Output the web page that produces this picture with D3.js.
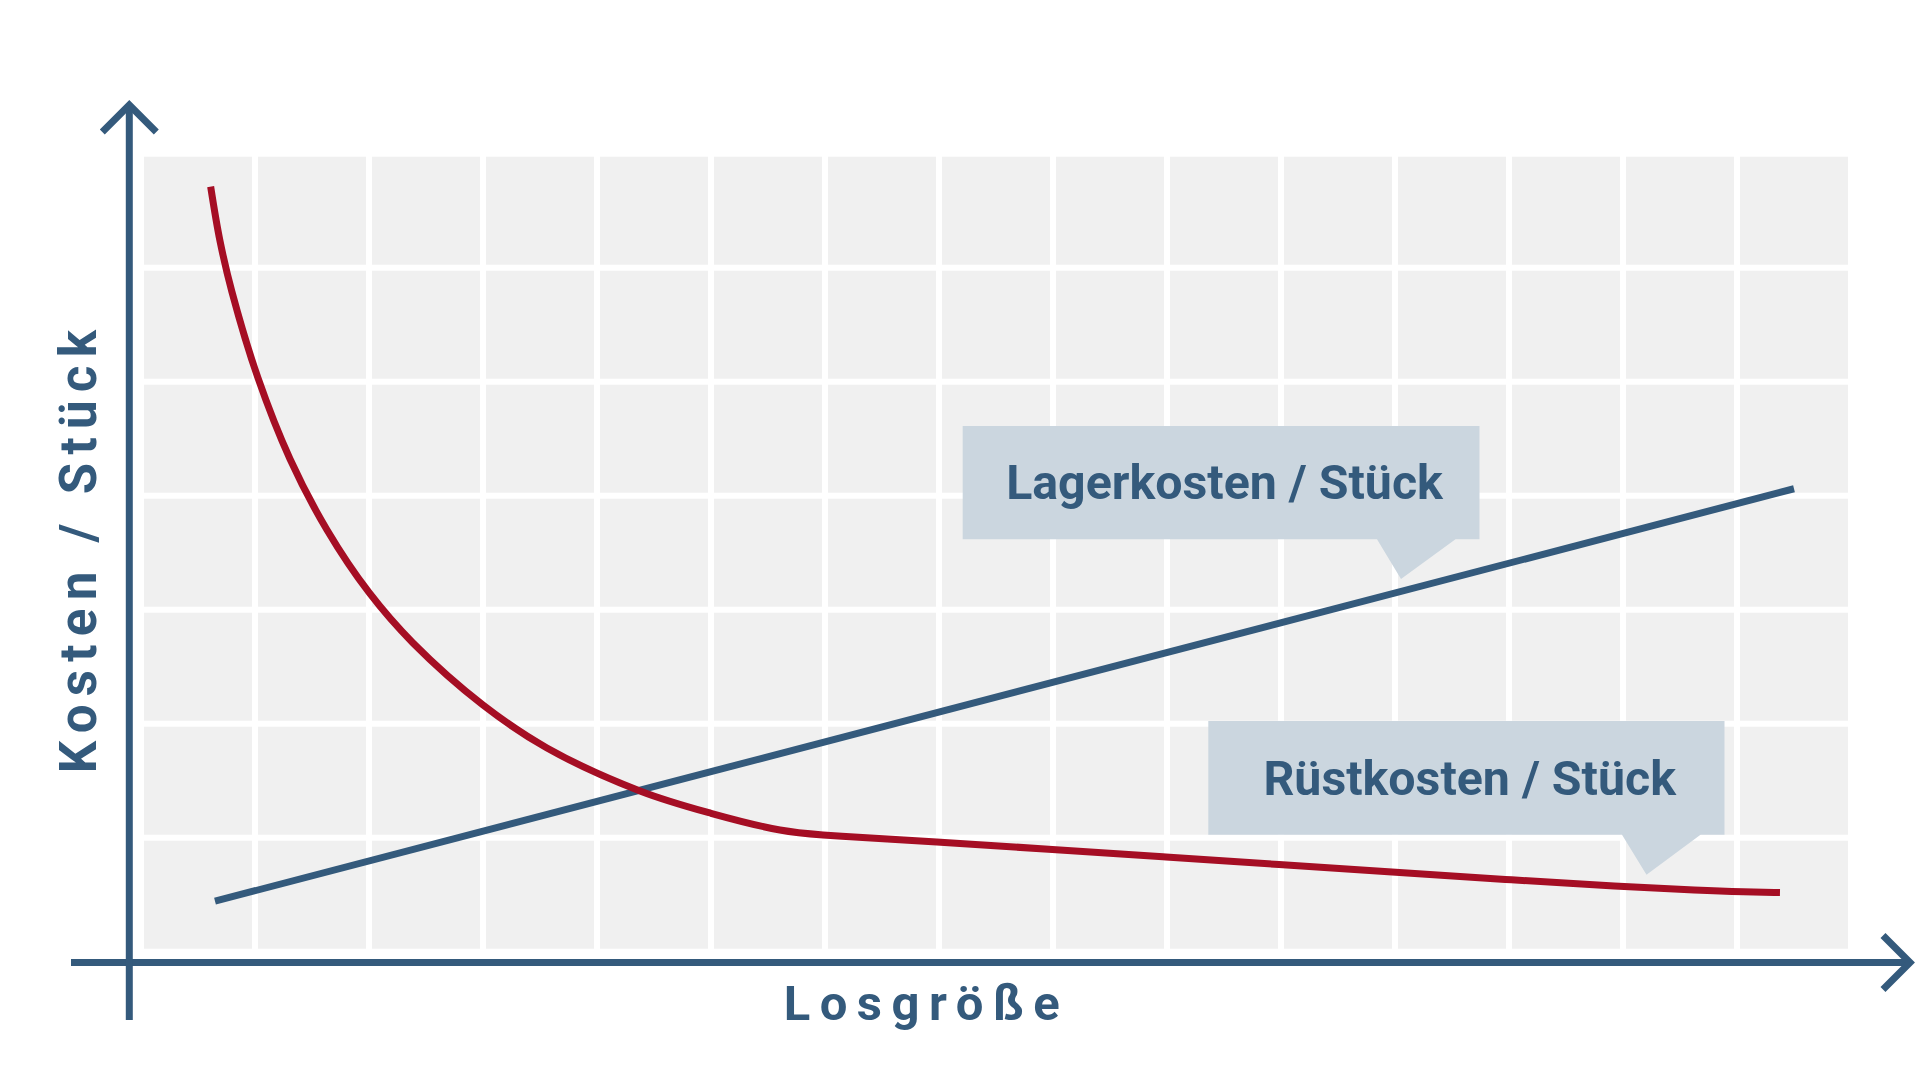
<!DOCTYPE html>
<html>
<head>
<meta charset="utf-8">
<script src="https://cdn.jsdelivr.net/npm/d3@7"></script>
<style>
  html, body { margin: 0; padding: 0; background: #ffffff; }
  svg { display: block; }
  text { font-family: Roboto, "Noto Sans", sans-serif; font-weight: 700; }
</style>
</head>
<body>
<svg id="chart" width="1920" height="1081"></svg>
<script>
// ---- data (grid units: x = Losgröße, y = Kosten / Stück) ----
const gridCols = d3.range(0, 16);   // vertical grid lines 0..15
const gridRows = d3.range(0, 8);    // horizontal grid lines 0..7

// Rüstkosten / Stück (setup cost per unit) — curved part
const ruestCurveX = [0.611, 0.693, 0.798, 1.026, 1.307, 1.632, 2.000, 2.386, 3.000, 3.561, 4.377, 5.000, 5.605, 5.983];
const ruestCurveY = [6.711, 6.234, 5.787, 5.033, 4.322, 3.699, 3.151, 2.708, 2.164, 1.787, 1.410, 1.214, 1.068, 1.024];
// Rüstkosten / Stück — nearly straight tail
const ruestTailX = [5.983, 6.974, 8.000, 8.991, 9.983, 10.974, 11.965, 12.974, 13.675, 14.070, 14.377];
const ruestTailY = [1.024, 0.962, 0.897, 0.831, 0.765, 0.699, 0.633, 0.572, 0.537, 0.524, 0.519];

// Lagerkosten / Stück (holding cost per unit)
const lagerX = [0.649, 14.5];
const lagerY = [0.443, 4.061];

const labelLager = "Lagerkosten / Stück";
const labelRuest = "Rüstkosten / Stück";
const labelXAxis = "Losgröße";
const labelYAxis = "Kosten / Stück";

// ---- styling ----
const BLUE = "#345a7c";
const RED = "#a50e24";
const BOX = "#cbd6df";
const GRIDBG = "#f0f0f0";

const svg = d3.select("#chart");

const x = d3.scaleLinear().domain([0, 15]).range([141, 1851]);
const y = d3.scaleLinear().domain([0, 7]).range([951.7, 153.7]);

// grid background
svg.append("rect")
  .attr("x", x(0)).attr("y", y(7))
  .attr("width", x(15) - x(0)).attr("height", y(0) - y(7))
  .attr("fill", GRIDBG);

svg.append("g").selectAll("line").data(gridCols).join("line")
  .attr("x1", d => x(d)).attr("x2", d => x(d))
  .attr("y1", y(7)).attr("y2", y(0))
  .attr("stroke", "#ffffff").attr("stroke-width", 6);

svg.append("g").selectAll("line").data(gridRows).join("line")
  .attr("x1", x(0)).attr("x2", x(15))
  .attr("y1", d => y(d)).attr("y2", d => y(d))
  .attr("stroke", "#ffffff").attr("stroke-width", 6);

// axes (arrows)
const axisY = 962.5;   // x-axis position
const axisX = 129.3;   // y-axis position
svg.append("line")
  .attr("x1", 71).attr("x2", 1910)
  .attr("y1", axisY).attr("y2", axisY)
  .attr("stroke", BLUE).attr("stroke-width", 7);
svg.append("polyline")
  .attr("points", [[1883, axisY - 27], [1910, axisY], [1883, axisY + 27]].map(p => p.join(",")).join(" "))
  .attr("fill", "none").attr("stroke", BLUE).attr("stroke-width", 7)
  .attr("stroke-linejoin", "miter");

svg.append("line")
  .attr("x1", axisX).attr("x2", axisX)
  .attr("y1", 1020).attr("y2", 105)
  .attr("stroke", BLUE).attr("stroke-width", 7);
svg.append("polyline")
  .attr("points", [[axisX - 27, 132], [axisX, 105], [axisX + 27, 132]].map(p => p.join(",")).join(" "))
  .attr("fill", "none").attr("stroke", BLUE).attr("stroke-width", 7)
  .attr("stroke-linejoin", "miter");

// callout boxes
function callout(x0, y0, x1, y1, p1, tip, p2, label, tx, ty) {
  const g = svg.append("g");
  g.append("path")
    .attr("d", `M${x0},${y0}H${x1}V${y1}H${p2}L${tip[0]},${tip[1]}L${p1},${y1}H${x0}Z`)
    .attr("fill", BOX);
  g.append("text")
    .attr("x", tx).attr("y", ty)
    .attr("text-anchor", "middle")
    .attr("font-size", 48.3)
    .attr("fill", BLUE)
    .text(label);
}
callout(962.7, 426, 1479.5, 539.3, 1377, [1401, 579], 1455.5, labelLager, 1224.5, 499.3);
callout(1208.3, 721, 1724.5, 834.7, 1622, [1646.5, 874.7], 1700.5, labelRuest, 1469.7, 795);

// lines
const line = d3.line().x(d => x(d[0])).y(d => y(d[1]));
svg.append("path")
  .datum(lagerX.map((v, i) => [v, lagerY[i]]))
  .attr("d", line)
  .attr("fill", "none").attr("stroke", BLUE).attr("stroke-width", 7);

const curvePts = ruestCurveX.map((v, i) => [v, ruestCurveY[i]]);
const tailPts = ruestTailX.map((v, i) => [v, ruestTailY[i]]);
const lineCR = d3.line().x(d => x(d[0])).y(d => y(d[1])).curve(d3.curveCatmullRom.alpha(0.5));
const lineTail = d3.line().x(d => x(d[0])).y(d => y(d[1])).curve(d3.curveBasis);
const d1 = lineCR(curvePts);
const d2 = lineTail(tailPts).replace(/^M[^CLQ]*/, "");
svg.append("path")
  .attr("d", d1 + d2)
  .attr("fill", "none").attr("stroke", RED).attr("stroke-width", 7)
  .attr("stroke-linejoin", "round");

// axis titles
svg.append("text")
  .attr("x", 921.7 + 4.75).attr("y", 1020)
  .attr("text-anchor", "middle")
  .attr("font-size", 49)
  .attr("letter-spacing", 9.5)
  .attr("fill", BLUE)
  .text(labelXAxis);

svg.append("text")
  .attr("transform", `translate(96,${551.7 - 4.15}) rotate(-90)`)
  .attr("text-anchor", "middle")
  .attr("font-size", 51)
  .attr("letter-spacing", 8.3)
  .attr("fill", BLUE)
  .text(labelYAxis);
</script>
</body>
</html>
